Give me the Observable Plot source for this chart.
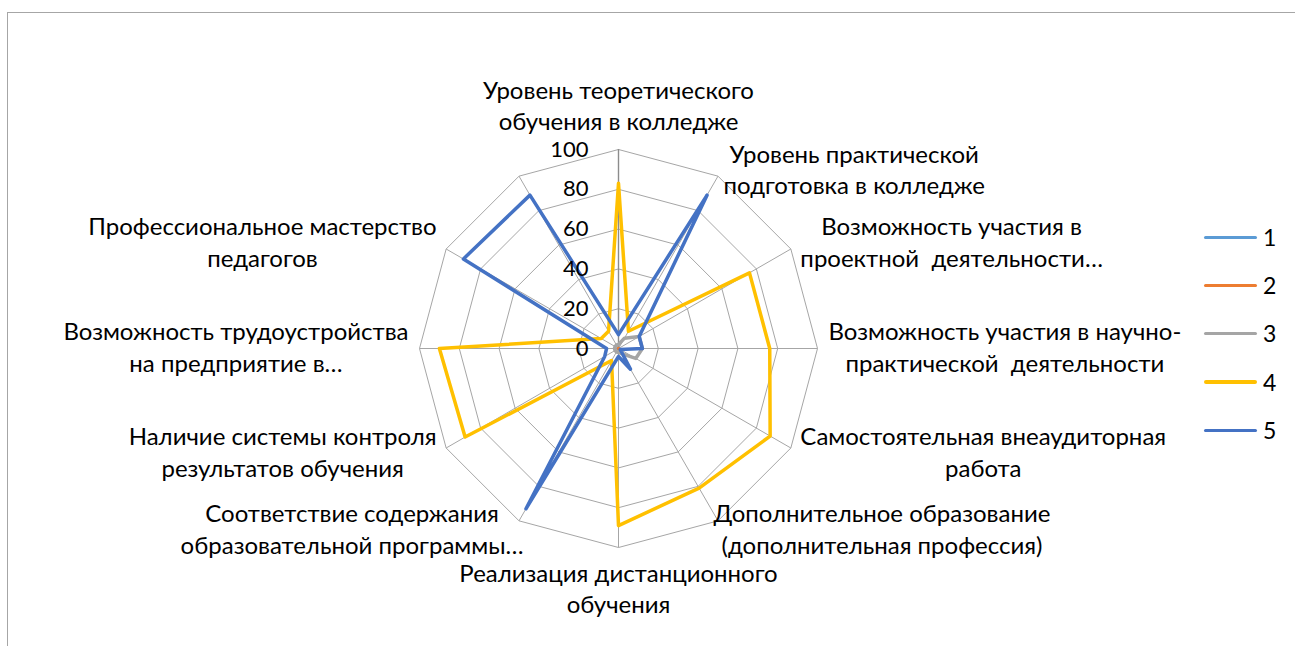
<!DOCTYPE html>
<html>
<head>
<meta charset="utf-8">
<script src="https://cdn.jsdelivr.net/npm/d3@7"></script>
<script src="https://cdn.jsdelivr.net/npm/@observablehq/plot@0.6"></script>
<style>
  html, body { margin: 0; padding: 0; background: #fff; width: 1295px; height: 646px; overflow: hidden; }
  body { font-family: Lato, "Open Sans", sans-serif; color: #000; }
  #frame { position: absolute; left: 6.5px; top: 11.5px; width: 1400px; height: 800px; border: 1.5px solid #A6A6A6; box-sizing: border-box; }
  #chart { position: absolute; left: 0; top: 0; }
  #legend { position: absolute; left: 1204px; top: 213px; }
  .item { display: flex; align-items: center; height: 48.3px; }
  .swatch { width: 53px; height: 3.2px; border-radius: 2px; margin-right: 6px; }
  .lab { font-size: 23px; line-height: 1; }
</style>
</head>
<body>
<div id="frame"></div>
<div id="chart"></div>
<div id="legend"></div>
<script>
// ---------- data ----------
const categories = [
  ["Уровень теоретического", "обучения в колледже"],
  ["Уровень практической", "подготовка в колледже"],
  ["Возможность участия в", "проектной  деятельности…"],
  ["Возможность участия в научно-", "практической  деятельности"],
  ["Самостоятельная внеаудиторная", "работа"],
  ["Дополнительное образование", "(дополнительная профессия)"],
  ["Реализация дистанционного", "обучения"],
  ["Соответствие содержания", "образовательной программы…"],
  ["Наличие системы контроля", "результатов обучения"],
  ["Возможность трудоустройства", "на предприятие в…"],
  ["Профессиональное мастерство", "педагогов"],
  [""]
];
const seriesNames = ["1", "2", "3", "4", "5"];
const seriesColors = ["#5B9BD5", "#ED7D31", "#A5A5A5", "#FFC000", "#4472C4"];
const series1 = [0, 0, 0, 0, 0, 0, 0, 0, 0, 0, 0, 0];
const series2 = [0, 0, 0, 0, 0, 0, 0, 0, 0, 0, 0, 0];
const series3 = [2, 6, 12, 12, 10, 3, 2, 2, 2, 2, 2, 2];
const series4 = [83, 10, 76, 76, 88, 81, 89, 7, 89, 90, 10, 10];
const series5 = [7, 89, 12, 12, 1, 12, 4, 93, 8, 6, 90, 89];
const tickValues = [0, 20, 40, 60, 80, 100];

// ---------- layout ----------
const W = 1295, H = 646;
const cx = 618, cy = 348, R = 199;      // radar centre and outer radius (px)
const k = R / 100;                        // px per data unit
const FONT = "Lato, 'Open Sans', sans-serif";
const FS = 24, TICK_FS = 22, LINE_H = 31.5, GAP = 11;
const n = categories.length;
const ang = i => i * 2 * Math.PI / n;
const polar = (v, i) => ({x: v * Math.sin(ang(i)), y: v * Math.cos(ang(i))});

const allSeries = [series1, series2, series3, series4, series5];
const seriesData = allSeries.map((vals, s) =>
  [...vals, vals[0]].map((v, i) => ({series: seriesNames[s], ...polar(v, i % n)})));

const rings = tickValues.filter(v => v > 0).flatMap(v =>
  d3.range(n + 1).map(i => ({ring: v, ...polar(v, i % n)})));
const spokes = d3.range(n).map(i => polar(100, i));

// label blocks (Excel-like placement)
const ctx = document.createElement("canvas").getContext("2d");
ctx.font = `${FS}px ${FONT}`;
const labelData = categories.flatMap((lines, i) => {
  const a = ang(i), s = Math.sin(a), c = Math.cos(a);
  const w = Math.max(...lines.map(l => ctx.measureText(l).width));
  const h = lines.length * LINE_H;
  const px = (R + GAP) * s, py = -(R + GAP) * c;
  let bx, by;
  if (Math.abs(s) < 1e-6) { bx = 0; by = py + (c > 0 ? -h / 2 : h / 2); }
  else {
    bx = px + Math.sign(s) * w / 2; by = py;
    if (c < -0.8) bx -= Math.sign(s) * 10;
    if (c > 0.8) by += 4;
  }
  return lines.map((t, j) => ({
    text: t,
    x: bx / k,
    y: -(by + (j - (lines.length - 1) / 2) * LINE_H) / k
  }));
});

const marks = [
  Plot.line(rings, {x: "x", y: "y", z: "ring", stroke: "#A6A6A6", strokeWidth: 1}),
  Plot.link(spokes, {x1: 0, y1: 0, x2: "x", y2: "y", stroke: "#A6A6A6", strokeWidth: 1}),
  Plot.ruleX([0], {y1: 0, y2: 100, stroke: "#8C8C8C", strokeWidth: 1.4}),
  ...seriesData.map((d, s) => Plot.line(d, {
    x: "x", y: "y", stroke: seriesColors[s], strokeWidth: 3.5,
    strokeLinejoin: "round", strokeLinecap: "round"
  })),
  Plot.text(tickValues, {x: 0, y: d => d, text: d => String(d), textAnchor: "end",
    dx: -30, fontSize: TICK_FS, fill: "#000"}),
  Plot.text(labelData, {x: "x", y: "y", text: "text", textAnchor: "middle",
    lineAnchor: "middle", fontSize: FS, fill: "#000"})
];

const chart = Plot.plot({
  width: W, height: H,
  marginLeft: cx - R, marginRight: W - (cx + R),
  marginTop: cy - R, marginBottom: H - (cy + R),
  x: {domain: [-100, 100], axis: null},
  y: {domain: [-100, 100], axis: null},
  style: {fontFamily: FONT, background: "transparent", overflow: "visible"},
  marks
});
document.getElementById("chart").appendChild(chart);

// legend
const legend = document.getElementById("legend");
seriesNames.forEach((name, s) => {
  const item = document.createElement("div");
  item.className = "item";
  item.innerHTML = `<span class="swatch" style="background:${seriesColors[s]}"></span><span class="lab">${name}</span>`;
  legend.appendChild(item);
});
</script>
</body>
</html>
